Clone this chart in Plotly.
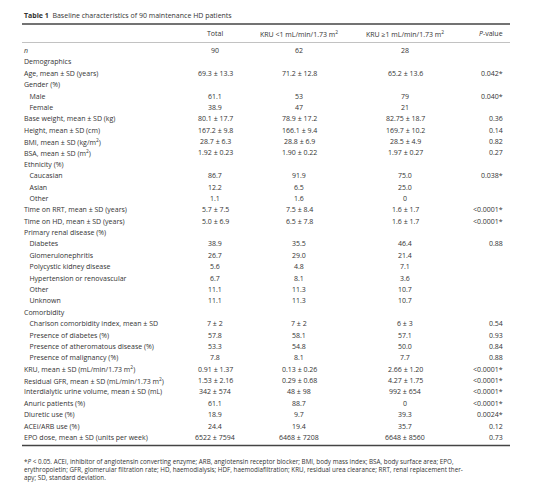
import plotly.graph_objects as go

W, H = 550, 483
IND = "\u00a0\u00a0\u00a0"

labels = ["<i>n</i>", "Demographics", "Age, mean ± SD (years)", "Gender (%)", IND+"Male", IND+"Female",
          "Base weight, mean ± SD (kg)", "Height, mean ± SD (cm)", "BMI, mean ± SD (kg/m<sup>2</sup>)",
          "BSA, mean ± SD (m<sup>2</sup>)", "Ethnicity (%)", IND+"Caucasian", IND+"Asian", IND+"Other",
          "Time on RRT, mean ± SD (years)", "Time on HD, mean ± SD (years)", "Primary renal disease (%)",
          IND+"Diabetes", IND+"Glomerulonephritis", IND+"Polycystic kidney disease",
          IND+"Hypertension or renovascular", IND+"Other", IND+"Unknown", "Comorbidity",
          IND+"Charlson comorbidity index, mean ± SD", IND+"Presence of diabetes (%)",
          IND+"Presence of atheromatous disease (%)", IND+"Presence of malignancy (%)",
          "KRU, mean ± SD (mL/min/1.73 m<sup>2</sup>)", "Residual GFR, mean ± SD (mL/min/1.73 m<sup>2</sup>)",
          "Interdialytic urine volume, mean ± SD (mL)", "Anuric patients (%)", "Diuretic use (%)",
          "ACEi/ARB use (%)", "EPO dose, mean ± SD (units per week)"]
total = ["90", "", "69.3 ± 13.3", "", "61.1", "38.9", "80.1 ± 17.7", "167.2 ± 9.8", "28.7 ± 6.3",
         "1.92 ± 0.23", "", "86.7", "12.2", "1.1", "5.7 ± 7.5", "5.0 ± 6.9", "", "38.9", "26.7", "5.6",
         "6.7", "11.1", "11.1", "", "7 ± 2", "57.8", "53.3", "7.8", "0.91 ± 1.37", "1.53 ± 2.16",
         "342 ± 574", "61.1", "18.9", "24.4", "6522 ± 7594"]
kru_lt1 = ["62", "", "71.2 ± 12.8", "", "53", "47", "78.9 ± 17.2", "166.1 ± 9.4", "28.8 ± 6.9",
           "1.90 ± 0.22", "", "91.9", "6.5", "1.6", "7.5 ± 8.4", "6.5 ± 7.8", "", "35.5", "29.0", "4.8",
           "8.1", "11.3", "11.3", "", "7 ± 2", "58.1", "54.8", "8.1", "0.13 ± 0.26", "0.29 ± 0.68",
           "48 ± 98", "88.7", "9.7", "19.4", "6468 ± 7208"]
kru_ge1 = ["28", "", "65.2 ± 13.6", "", "79", "21", "82.75 ± 18.7", "169.7 ± 10.2", "28.5 ± 4.9",
           "1.97 ± 0.27", "", "75.0", "25.0", "0", "1.6 ± 1.7", "1.6 ± 1.7", "", "46.4", "21.4", "7.1",
           "3.6", "10.7", "10.7", "", "6 ± 3", "57.1", "50.0", "7.7", "2.66 ± 1.20", "4.27 ± 1.75",
           "992 ± 654", "0", "39.3", "35.7", "6648 ± 8560"]
pvals = ["", "", "0.042*", "", "0.040*", "", "0.36", "0.14", "0.82", "0.27", "", "0.038*", "", "",
         "<0.0001*", "<0.0001*", "", "0.88", "", "", "", "", "", "", "0.54", "0.93", "0.84", "0.88",
         "<0.0001*", "<0.0001*", "<0.0001*", "<0.0001*", "0.0024*", "0.12", "0.73"]
headers = ["Total", "KRU &lt;1 mL/min/1.73 m<sup>2</sup>", "KRU ≥1 mL/min/1.73 m<sup>2</sup>", "<i>P</i>-value"]

FONT = "Open Sans"
C = "#333333"
FS = 7
x0, x1 = 14, 502
ROW0, STEP = 42.5, 11.38
colx = [207, 291, 397, 497]
colanchor = ["center", "center", "center", "right"]

def px(x): return x / W
def py(y): return 1 - y / H

ann = []
def add(text, x, y, xa="left", size=FS):
    ann.append(dict(text=text, x=px(x), y=py(y), xref="paper", yref="paper", xanchor=xa,
                    yanchor="middle", showarrow=False, font=dict(family=FONT, size=size, color=C)))

for j, h in enumerate(headers):
    add(h, colx[j], 25.5, colanchor[j])
for i, lab in enumerate(labels):
    y = ROW0 + i * STEP
    add(lab, x0, y)
    for j, col in enumerate([total, kru_lt1, kru_ge1, pvals]):
        if col[i]:
            add(col[i].replace("<", "&lt;"), colx[j], y, colanchor[j])

add("<b>Table 1</b>  Baseline characteristics of 90 maintenance HD patients", x0, 7.5)
ann.append(dict(text="*<i>P</i> &lt; 0.05. ACEi, inhibitor of angiotensin converting enzyme; ARB, angiotensin receptor blocker; BMI, body mass index; BSA, body surface area; EPO,<br>"
                     "erythropoietin; GFR, glomerular filtration rate; HD, haemodialysis; HDF, haemodiafiltration; KRU, residual urea clearance; RRT, renal replacement ther-<br>"
                     "apy; SD, standard deviation.",
                x=px(x0), y=py(447), xref="paper", yref="paper", xanchor="left", yanchor="top",
                align="left", showarrow=False, font=dict(family=FONT, size=6.3, color=C)))

shapes = [
    dict(type="line", xref="paper", yref="paper", x0=px(x0), x1=px(x1), y0=py(16), y1=py(16), line=dict(color="#444", width=1.5)),
    dict(type="line", xref="paper", yref="paper", x0=px(x0), x1=px(x1), y0=py(34.5), y1=py(34.5), line=dict(color="#999", width=0.6)),
    dict(type="line", xref="paper", yref="paper", x0=px(x0), x1=px(x1), y0=py(437.5), y1=py(437.5), line=dict(color="#444", width=1.5)),
]

fig = go.Figure()
fig.update_layout(width=W, height=H, margin=dict(l=0, r=0, t=0, b=0), paper_bgcolor="white",
                  plot_bgcolor="white", xaxis=dict(visible=False), yaxis=dict(visible=False),
                  shapes=shapes, annotations=ann)
fig.write_html("out.html")
